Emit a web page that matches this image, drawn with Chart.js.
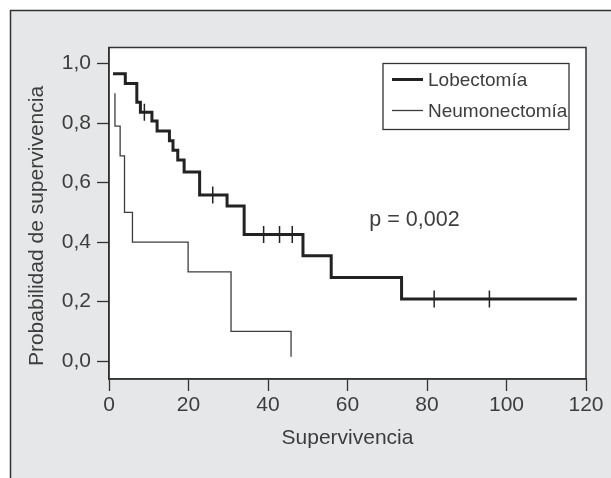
<!DOCTYPE html>
<html>
<head>
<meta charset="utf-8">
<script src="https://cdn.jsdelivr.net/npm/chart.js@4"></script>
<style>
  html, body { margin: 0; padding: 0; background: #fff; }
  #wrap { width: 611px; height: 478px; }
</style>
</head>
<body>
<div id="wrap"><canvas id="kmChart" width="611" height="478"></canvas></div>
<script>
// Kaplan-Meier data
const lobLabel = 'Lobectomía';
const lobTime = [1.0, 4.1, 7.0, 7.9, 10.8, 12.1, 15.2, 16.1, 17.3, 18.9, 22.8, 29.7, 34.0, 48.8, 55.9, 73.6, 117.7];
const lobSurv = [0.966, 0.933, 0.870, 0.836, 0.807, 0.773, 0.741, 0.709, 0.676, 0.636, 0.558, 0.521, 0.426, 0.354, 0.281, 0.209, 0.209];
const lobCensTime = [8.9, 26.1, 38.9, 42.9, 46.1, 81.8, 95.7];
const lobCensSurv = [0.836, 0.558, 0.426, 0.426, 0.426, 0.209, 0.209];

const neuLabel = 'Neumonectomía';
const neuTime = [1.5, 1.5, 2.8, 3.9, 5.9, 19.9, 30.7, 45.8];
const neuSurv = [0.90, 0.79, 0.69, 0.50, 0.40, 0.30, 0.10, 0.015];

const xTicks = [0, 20, 40, 60, 80, 100, 120];
const yTicks = [0, 0.2, 0.4, 0.6, 0.8, 1.0];
const xTitle = 'Supervivencia';
const yTitle = 'Probabilidad de supervivencia';
const pText = 'p = 0,002';
const pPos = [65.5, 0.474];

const toPts = (xs, ys) => xs.map((x, i) => ({ x: x, y: ys[i] }));

const FONT = "'Liberation Sans', Arial, sans-serif";
const TXT = '#3d3d3d';
const AX = '#333';

// frame, plot box, legend, y title and p value
const decor = {
  id: 'decor',
  beforeDraw(chart) {
    const { ctx, chartArea: a } = chart;
    ctx.save();
    ctx.fillStyle = '#fff';
    ctx.fillRect(0, 0, chart.width, chart.height);
    ctx.fillStyle = '#e6e7e9';
    ctx.fillRect(10, 10, chart.width, chart.height);
    ctx.strokeStyle = '#333';
    ctx.lineWidth = 1.5;
    ctx.beginPath();
    ctx.moveTo(10.5, chart.height);
    ctx.lineTo(10.5, 10.5);
    ctx.lineTo(chart.width, 10.5);
    ctx.stroke();
    ctx.fillStyle = '#fff';
    ctx.fillRect(a.left, a.top, a.right - a.left, a.bottom - a.top);
    ctx.restore();
  },
  afterDraw(chart) {
    const { ctx, chartArea: a, scales } = chart;
    ctx.save();
    ctx.strokeStyle = AX;
    ctx.lineWidth = 1.5;
    ctx.strokeRect(a.left, a.top, a.right - a.left, a.bottom - a.top);

    // legend box
    const lx = a.left + 274, ly = a.top + 16, lw = 186, lh = 66;
    ctx.lineWidth = 1.3;
    ctx.strokeStyle = '#333';
    ctx.strokeRect(lx, ly, lw, lh);
    const items = [chart.data.datasets[0], chart.data.datasets[1]];
    ctx.font = '19px ' + FONT;
    ctx.textBaseline = 'middle';
    ctx.textAlign = 'left';
    items.forEach((ds, i) => {
      const yy = ly + 16 + i * 31;
      ctx.strokeStyle = ds.borderColor;
      ctx.lineWidth = ds.borderWidth;
      ctx.beginPath();
      ctx.moveTo(lx + 9, yy);
      ctx.lineTo(lx + 40, yy);
      ctx.stroke();
      ctx.fillStyle = TXT;
      ctx.fillText(ds.label, lx + 45, yy + 1);
    });

    // p value
    ctx.font = '21.5px ' + FONT;
    ctx.fillStyle = TXT;
    ctx.fillText(pText, scales.x.getPixelForValue(pPos[0]), scales.y.getPixelForValue(pPos[1]));

    // y axis title, a bit below the centre of the axis as in the figure
    ctx.font = '21px ' + FONT;
    ctx.textAlign = 'center';
    ctx.translate(37, 226);
    ctx.rotate(-Math.PI / 2);
    ctx.fillText(yTitle, 0, 0);
    ctx.restore();
  }
};

const ctx = document.getElementById('kmChart').getContext('2d');

new Chart(ctx, {
  type: 'scatter',
  data: {
    datasets: [
      {
        label: lobLabel,
        data: toPts(lobTime, lobSurv),
        showLine: true,
        stepped: 'before',
        borderColor: '#222',
        borderWidth: 3,
        pointRadius: 0,
        fill: false
      },
      {
        label: neuLabel,
        data: toPts(neuTime, neuSurv),
        showLine: true,
        stepped: 'before',
        borderColor: '#3c3c3c',
        borderWidth: 1.3,
        pointRadius: 0,
        fill: false
      },
      {
        label: 'censurados',
        data: toPts(lobCensTime, lobCensSurv),
        showLine: false,
        pointStyle: 'line',
        rotation: 90,
        pointRadius: 8.5,
        borderColor: '#222',
        borderWidth: 1.5,
        backgroundColor: '#222'
      }
    ]
  },
  options: {
    responsive: false,
    animation: false,
    devicePixelRatio: 1,
    layout: { padding: { left: 0, top: 47.5, right: 25, bottom: 0 } },
    plugins: {
      legend: { display: false },
      tooltip: { enabled: false }
    },
    scales: {
      x: {
        type: 'linear',
        min: 0,
        max: 120,
        afterFit: (s) => { s.height = 99; },
        afterBuildTicks: (s) => { s.ticks = xTicks.map(v => ({ value: v })); },
        border: { display: true, color: AX, width: 1.5 },
        grid: { drawOnChartArea: false, drawTicks: true, tickLength: 12, tickColor: AX, tickWidth: 1.3 },
        ticks: { color: TXT, font: { family: FONT, size: 21 }, padding: 2, maxRotation: 0 },
        title: { display: true, text: xTitle, color: TXT, font: { family: FONT, size: 21 }, padding: { top: 0, bottom: 27 } }
      },
      y: {
        type: 'linear',
        min: -0.06,
        max: 1.054,
        afterFit: (s) => { s.width = 109; },
        afterBuildTicks: (s) => { s.ticks = yTicks.map(v => ({ value: v })); },
        border: { display: true, color: AX, width: 1.5 },
        grid: { drawOnChartArea: false, drawTicks: true, tickLength: 12, tickColor: AX, tickWidth: 1.3 },
        ticks: {
          color: TXT,
          font: { family: FONT, size: 21 },
          padding: 6,
          callback: (v) => v.toFixed(1).replace('.', ',')
        },
        title: { display: false, text: yTitle }
      }
    }
  },
  plugins: [decor]
});
</script>
</body>
</html>
